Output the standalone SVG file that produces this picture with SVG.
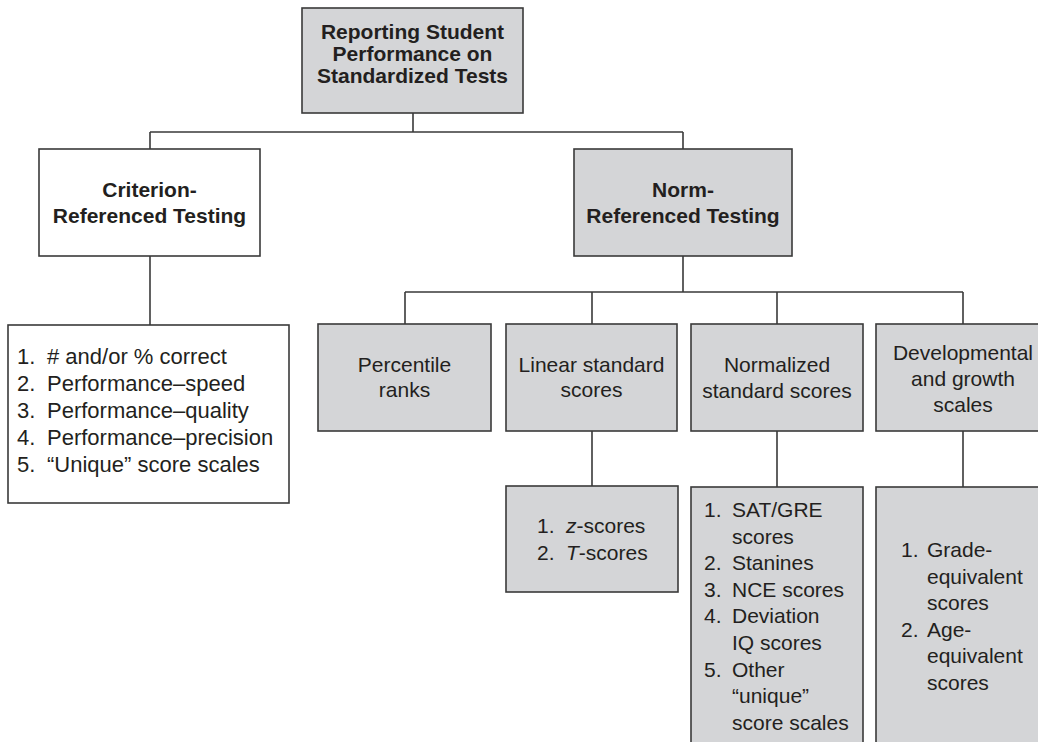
<svg xmlns="http://www.w3.org/2000/svg" width="1038" height="742" viewBox="0 0 1038 742">
  <style>
    .box { stroke: #3a3a3a; stroke-width: 1.6; }
    .g { fill: #d4d5d7; }
    .w { fill: #ffffff; }
    .conn { stroke: #3a3a3a; stroke-width: 1.6; fill: none; }
    text { font-family: "Liberation Sans", Arial, sans-serif; fill: #231f20; }
    .b { font-weight: bold; font-size: 21px; text-anchor: middle; }
    .r { font-size: 21px; }
    .rc { font-size: 21px; text-anchor: middle; }
    .l22 { font-size: 22px; }
  </style>
  <rect width="1038" height="742" fill="#ffffff"/>
  <g id="connectors">
    <path class="conn" d="M413 113 V132 M150 132 H683 M150 132 V149 M683 132 V149"/>
    <path class="conn" d="M150 256 V325"/>
    <path class="conn" d="M683 256 V292 M405 292 H963 M405 292 V324 M592 292 V324 M777 292 V324 M963 292 V324"/>
    <path class="conn" d="M592 431 V486 M777 431 V487 M963 431 V487"/>
  </g>
  <g id="root">
    <rect class="box g" x="302" y="8" width="221" height="105"/>
    <text class="b" x="412.5" y="39">Reporting Student</text>
    <text class="b" x="412.5" y="61">Performance on</text>
    <text class="b" x="412.5" y="83">Standardized Tests</text>
  </g>
  <g id="criterion">
    <rect class="box w" x="39" y="149" width="221" height="107"/>
    <text class="b" x="149.5" y="197">Criterion-</text>
    <text class="b" x="149.5" y="223">Referenced Testing</text>
  </g>
  <g id="norm">
    <rect class="box g" x="574" y="149" width="218" height="107"/>
    <text class="b" x="683" y="197">Norm-</text>
    <text class="b" x="683" y="223">Referenced Testing</text>
  </g>
  <g id="criterion-list">
    <rect class="box w" x="8" y="325" width="281" height="178"/>
    <g class="l22">
      <text x="17" y="364">1.</text><text x="47" y="364"># and/or % correct</text>
      <text x="17" y="391">2.</text><text x="47" y="391">Performance–speed</text>
      <text x="17" y="418">3.</text><text x="47" y="418">Performance–quality</text>
      <text x="17" y="445">4.</text><text x="47" y="445">Performance–precision</text>
      <text x="17" y="472">5.</text><text x="47" y="472">“Unique” score scales</text>
    </g>
  </g>
  <g id="percentile">
    <rect class="box g" x="318" y="324" width="173" height="107"/>
    <text class="rc" x="404.5" y="372">Percentile</text>
    <text class="rc" x="404.5" y="397">ranks</text>
  </g>
  <g id="linear">
    <rect class="box g" x="506" y="324" width="171" height="107"/>
    <text class="rc" x="591.5" y="372">Linear standard</text>
    <text class="rc" x="591.5" y="397">scores</text>
  </g>
  <g id="normalized">
    <rect class="box g" x="691" y="324" width="172" height="107"/>
    <text class="rc" x="777" y="372">Normalized</text>
    <text class="rc" x="777" y="398">standard scores</text>
  </g>
  <g id="developmental">
    <rect class="box g" x="876" y="324" width="200" height="107"/>
    <text class="rc" x="963" y="360">Developmental</text>
    <text class="rc" x="963" y="386">and growth</text>
    <text class="rc" x="963" y="412">scales</text>
  </g>
  <g id="linear-list">
    <rect class="box g" x="506" y="486" width="172" height="106"/>
    <g class="r">
      <text x="537" y="533">1.</text><text x="566" y="533"><tspan font-style="italic">z</tspan>-scores</text>
      <text x="537" y="560">2.</text><text x="566" y="560"><tspan font-style="italic">T</tspan>-scores</text>
    </g>
  </g>
  <g id="normalized-list">
    <rect class="box g" x="691" y="487" width="172" height="280"/>
    <g class="r">
      <text x="704" y="517">1.</text><text x="732" y="517">SAT/GRE</text>
      <text x="732" y="543.6">scores</text>
      <text x="704" y="570.2">2.</text><text x="732" y="570.2">Stanines</text>
      <text x="704" y="596.8">3.</text><text x="732" y="596.8">NCE scores</text>
      <text x="704" y="623.4">4.</text><text x="732" y="623.4">Deviation</text>
      <text x="732" y="650">IQ scores</text>
      <text x="704" y="676.6">5.</text><text x="732" y="676.6">Other</text>
      <text x="732" y="703.2">“unique”</text>
      <text x="732" y="729.8">score scales</text>
    </g>
  </g>
  <g id="developmental-list">
    <rect class="box g" x="876" y="487" width="200" height="280"/>
    <g class="r">
      <text x="901" y="557">1.</text><text x="927" y="557">Grade-</text>
      <text x="927" y="583.6">equivalent</text>
      <text x="927" y="610.2">scores</text>
      <text x="901" y="636.8">2.</text><text x="927" y="636.8">Age-</text>
      <text x="927" y="663.4">equivalent</text>
      <text x="927" y="690">scores</text>
    </g>
  </g>
</svg>
